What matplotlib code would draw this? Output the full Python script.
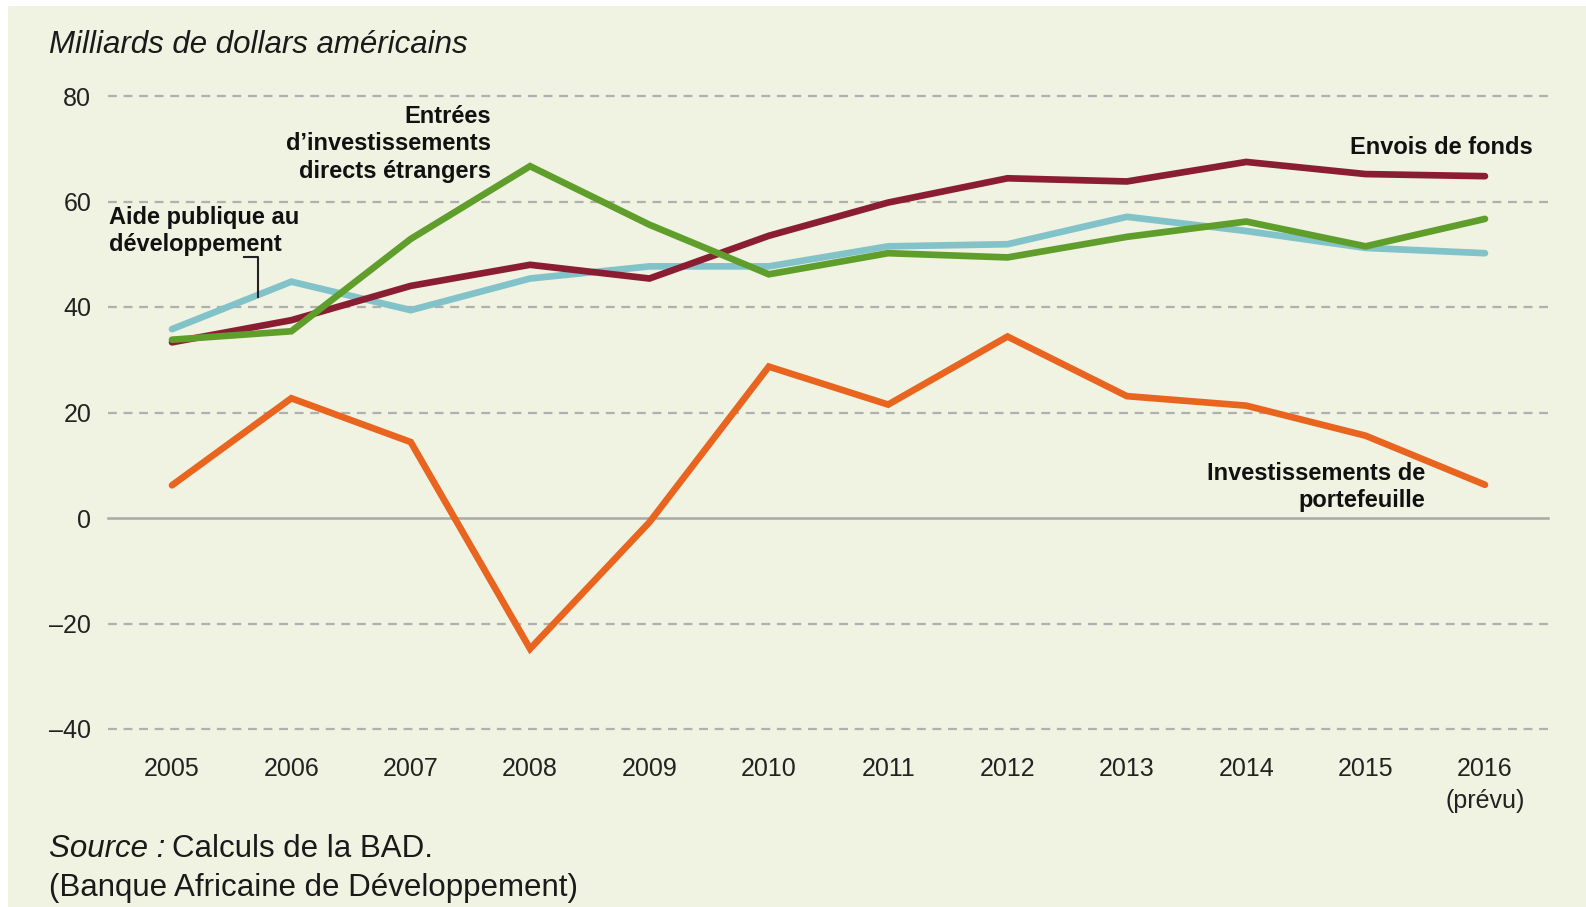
import matplotlib
matplotlib.use("Agg")
import matplotlib.pyplot as plt

years = [2005, 2006, 2007, 2008, 2009, 2010, 2011, 2012, 2013, 2014, 2015, 2016]
year_labels = ["2005", "2006", "2007", "2008", "2009", "2010", "2011", "2012",
               "2013", "2014", "2015", "2016\n(prévu)"]
envois = [33.3, 37.5, 44.0, 48.0, 45.4, 53.5, 59.8, 64.4, 63.8, 67.5, 65.2, 64.8]
aide = [35.8, 44.8, 39.4, 45.4, 47.7, 47.7, 51.5, 51.9, 57.1, 54.4, 51.2, 50.2]
ide = [33.8, 35.4, 52.9, 66.7, 55.6, 46.2, 50.2, 49.4, 53.3, 56.2, 51.5, 56.7]
portefeuille = [6.2, 22.7, 14.4, -24.8, -0.8, 28.7, 21.5, 34.4, 23.1, 21.3, 15.6, 6.3]
yticks = [-40, -20, 0, 20, 40, 60, 80]
ytick_labels = ["–40", "–20", "0", "20", "40", "60", "80"]

W, H = 1586, 907
BG = "#f0f2e2"
NARROW = ["Liberation Sans Narrow", "Liberation Sans", "DejaVu Sans"]
SANS = ["Liberation Sans", "DejaVu Sans"]


def fx(px):
    return px / W


def fy(py):
    return 1 - py / H


fig = plt.figure(figsize=(W / 100, H / 100), dpi=100, facecolor="white")
# beige panel with a thin white margin top/left
fig.patches.append(plt.Rectangle((fx(8), 0), 1 - fx(8), fy(6), transform=fig.transFigure,
                                 facecolor=BG, edgecolor="none", zorder=-10))

ax = fig.add_axes([fx(108), fy(729), fx(1548) - fx(108), fy(96) - fy(729)])
ax.set_facecolor("none")
ax.set_xlim(2004.464, 2016.528)
ax.set_ylim(-40, 80)
for s in ax.spines.values():
    s.set_visible(False)

for v in yticks:
    if v == 0:
        ax.axhline(v, color="#a8a8a8", lw=1.8, zorder=1, clip_on=False)
    else:
        ax.axhline(v, color="#b0b0b0", lw=1.6, ls=(0, (4, 3)), zorder=1, clip_on=False)

series = [
    (aide, "#82c3c9"),
    (envois, "#8b1d33"),
    (ide, "#5f9e2b"),
    (portefeuille, "#e8641f"),
]
for vals, col in series:
    ax.plot(years, vals, color=col, lw=4.8, solid_capstyle="round",
            solid_joinstyle="miter", zorder=3, clip_on=False)

ax.set_yticks(yticks)
ax.set_yticklabels(ytick_labels, family=NARROW, fontsize=18, color="#222222")
ax.set_xticks(years)
ax.set_xticklabels(year_labels, family=NARROW, fontsize=18, color="#222222",
                   linespacing=1.45)
ax.tick_params(axis="y", length=0, pad=12)
ax.tick_params(axis="x", length=0, pad=20)
for lab in ax.get_xticklabels():
    lab.set_verticalalignment("top")

fig.text(fx(49), fy(45), "Milliards de dollars américains", family=SANS, style="italic",
         fontsize=22.5, va="center", ha="left", color="#1a1a1a")

lab_kw = dict(family=SANS, fontweight="bold", fontsize=17, color="#111111",
              linespacing=1.25)
fig.text(fx(491), fy(144), "Entrées\nd’investissements\ndirects étrangers",
         ha="right", va="center", **lab_kw)
fig.text(fx(109), fy(231), "Aide publique au\ndéveloppement",
         ha="left", va="center", **lab_kw)
fig.text(fx(1533), fy(148), "Envois de fonds", ha="right", va="center", **lab_kw)
fig.text(fx(1425), fy(487), "Investissements de\nportefeuille",
         ha="right", va="center", **lab_kw)

fig.add_artist(plt.Line2D([fx(244), fx(258), fx(258)], [fy(257), fy(257), fy(297)],
                          transform=fig.transFigure, color="#222222", lw=1.5))

src = fig.text(fx(49), fy(849), "Source :", family=SANS, style="italic", fontsize=22.5,
               va="center", ha="left", color="#1a1a1a")
fig.canvas.draw()
bb = src.get_window_extent()
fig.text((bb.x1 + 7) / W, fy(849), "Calculs de la BAD.", family=SANS, fontsize=22.5,
         va="center", ha="left", color="#1a1a1a")
fig.text(fx(49), fy(888), "(Banque Africaine de Développement)", family=SANS, fontsize=22.5,
         va="center", ha="left", color="#1a1a1a")

fig.savefig("out.png", dpi=100, facecolor="white")
